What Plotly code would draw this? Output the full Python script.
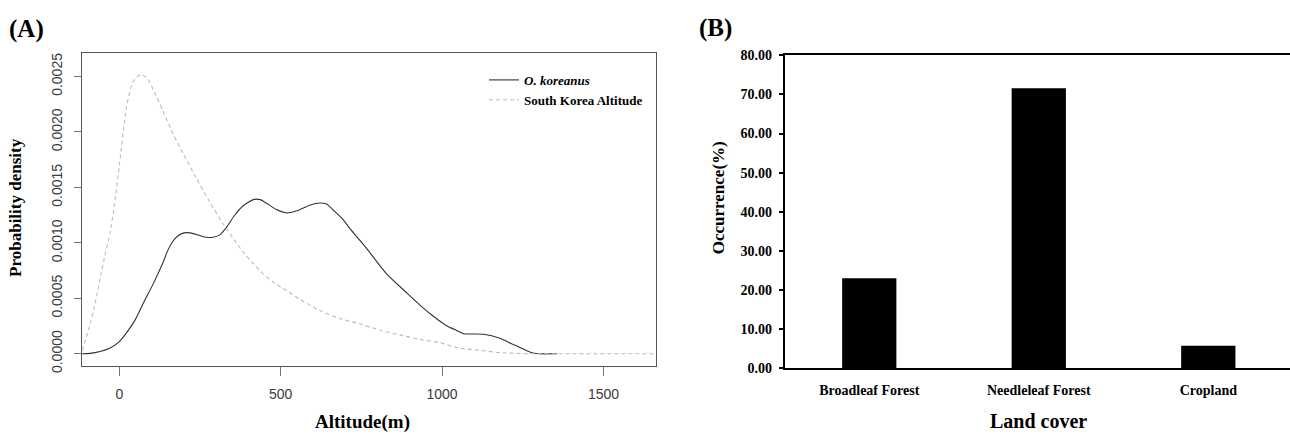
import plotly.graph_objects as go

# ---------------- Panel A data (density curves) ----------------
ok_alt = [-115, -90, -60, -30, 0, 25, 50, 75, 105, 135, 150, 165, 180, 200, 220, 245,
          270, 290, 310, 332, 355, 382, 415, 436, 460, 487, 518, 550, 590, 621, 642,
          665, 690, 714, 766, 828, 890, 935, 972, 1010, 1045, 1068, 1100, 1129, 1179,
          1215, 1245, 1275, 1300, 1356]
ok_dens = [0.0, 0.000003, 0.00002, 0.00005, 0.00011, 0.0002, 0.00031, 0.00046, 0.00063,
           0.00082, 0.00093, 0.00101, 0.00106, 0.00109, 0.00109, 0.00107, 0.00105,
           0.00105, 0.00107, 0.00114, 0.00124, 0.00133, 0.00139, 0.00139, 0.00135,
           0.0013, 0.00127, 0.00129, 0.00134, 0.00136, 0.00135, 0.00129, 0.00122,
           0.00113, 0.00095, 0.00072, 0.00055, 0.00043, 0.00034, 0.00026, 0.00021,
           0.00018, 0.000178, 0.000175, 0.000139, 0.00009, 0.000052, 0.000012, 0.0, 0.0]

kr_alt = [-115, -94, -75, -61, -45, -28, -15, 1, 22, 42, 66, 85, 104, 135, 167, 197,
          239, 280, 322, 363, 383, 410, 435, 475, 518, 560, 621, 680, 745, 810, 869,
          930, 993, 1055, 1120, 1180, 1267, 1400, 1700]
kr_dens = [0.00003, 0.00023, 0.00045, 0.00066, 0.00088, 0.0011, 0.00135, 0.00172,
           0.00222, 0.00245, 0.00252, 0.00249, 0.00239, 0.00219, 0.00198, 0.00181,
           0.00158, 0.00137, 0.00117, 0.001, 0.00092, 0.00083, 0.00075, 0.00065,
           0.00057, 0.00049, 0.00039, 0.00032, 0.00027, 0.00021, 0.00017, 0.00013,
           0.0001, 0.00005, 0.00003, 0.00001, 0.0, 0.0, 0.0]

# ---------------- Panel B data (land cover) ----------------
land_cover = ["Broadleaf Forest", "Needleleaf Forest", "Cropland"]
occurrence = [23.0, 71.6, 5.75]

W, H = 1290, 439
SERIF = "Liberation Serif, Times New Roman, serif"
SANS = "Liberation Sans, Arial, sans-serif"


def px_x(p):
    return p / W


def px_y(p):
    return 1 - p / H


fig = go.Figure()

fig.add_trace(go.Scatter(
    x=ok_alt, y=ok_dens, mode="lines", name="<i>O. koreanus</i>",
    line=dict(color="#333333", width=1.1, shape="spline", smoothing=0.6),
    xaxis="x", yaxis="y", cliponaxis=True))
fig.add_trace(go.Scatter(
    x=kr_alt, y=kr_dens, mode="lines", name="South Korea Altitude",
    line=dict(color="#bbbbbb", width=1.1, dash="4px,3px", shape="spline", smoothing=0.6),
    xaxis="x", yaxis="y", cliponaxis=True))

fig.add_trace(go.Bar(
    x=[0, 1, 2], y=occurrence, width=0.32, marker=dict(color="black", line=dict(width=0)),
    xaxis="x2", yaxis="y2", showlegend=False))

fig.update_layout(
    width=W, height=H,
    margin=dict(l=0, r=0, t=0, b=0),
    paper_bgcolor="white", plot_bgcolor="white",
    showlegend=True,
    legend=dict(x=px_x(484), y=px_y(60), xanchor="left", yanchor="top",
                bgcolor="rgba(0,0,0,0)", borderwidth=0,
                font=dict(family=SERIF, size=13, color="black", weight="bold"),
                itemwidth=30, tracegroupgap=0),
    xaxis=dict(domain=[px_x(82), px_x(656)], range=[-115.6, 1662.7],
               anchor="y", showgrid=False, zeroline=False,
               showline=True, linecolor="#555555", linewidth=1, mirror=True,
               ticks="outside", ticklen=9, tickcolor="#777777", tickwidth=1,
               tickvals=[0, 500, 1000, 1500], ticktext=["0", "500", "1000", "1500"],
               tickfont=dict(family=SANS, size=14, color="#3a3a3a"),
               ticklabelstandoff=6),
    yaxis=dict(domain=[px_y(372), px_y(48)], range=[-0.0001132, 0.002709],
               anchor="x", showgrid=False, zeroline=False,
               showline=True, linecolor="#555555", linewidth=1, mirror=True,
               ticks="outside", ticklen=7, tickcolor="#777777", tickwidth=1,
               tickvals=[0, 0.0005, 0.001, 0.0015, 0.002, 0.0025],
               ticktext=["0.0000", "0.0005", "0.0010", "0.0015", "0.0020", "0.0025"],
               tickangle=-90,
               tickfont=dict(family=SANS, size=14, color="#3a3a3a"),
               ticklabelstandoff=6),
    xaxis2=dict(domain=[px_x(784.5), 1.0], range=[-0.5, 2.482],
                anchor="y2", showgrid=False, zeroline=False,
                showline=True, linecolor="black", linewidth=2, mirror=True,
                ticks="", tickvals=[0, 1, 2], ticktext=land_cover,
                tickfont=dict(family=SERIF, size=14, color="black", weight="bold"),
                ticklabelstandoff=8),
    yaxis2=dict(domain=[px_y(374), px_y(50)], range=[0, 80],
                anchor="x2", showgrid=False, zeroline=False,
                showline=True, linecolor="black", linewidth=1.5,
                ticks="outside", ticklen=4, tickcolor="black", tickwidth=1.5,
                tickvals=[0, 10, 20, 30, 40, 50, 60, 70, 80], tickformat=".2f",
                tickfont=dict(family=SERIF, size=14, color="black", weight="bold"),
                ticklabelstandoff=4),
)

annotations = [
    dict(text="<b>(A)</b>", x=px_x(26), y=px_y(23), font=dict(family=SERIF, size=25, color="black")),
    dict(text="<b>(B)</b>", x=px_x(715), y=px_y(22), font=dict(family=SERIF, size=25, color="black")),
    dict(text="<b>Probability density</b>", x=px_x(16), y=px_y(208), textangle=-90,
         font=dict(family=SERIF, size=17, color="black")),
    dict(text="<b>Altitude(m)</b>", x=px_x(362), y=px_y(430),
         font=dict(family=SERIF, size=19, color="black")),
    dict(text="<b>Occurrence(%)</b>", x=px_x(718), y=px_y(198), textangle=-90,
         font=dict(family=SERIF, size=17, color="black")),
    dict(text="<b>Land cover</b>", x=px_x(1038), y=px_y(429),
         font=dict(family=SERIF, size=20, color="black")),
]
for a in annotations:
    a.update(xref="paper", yref="paper", xanchor="center", yanchor="middle", showarrow=False)
fig.update_layout(annotations=annotations)

fig.write_html("out.html")
